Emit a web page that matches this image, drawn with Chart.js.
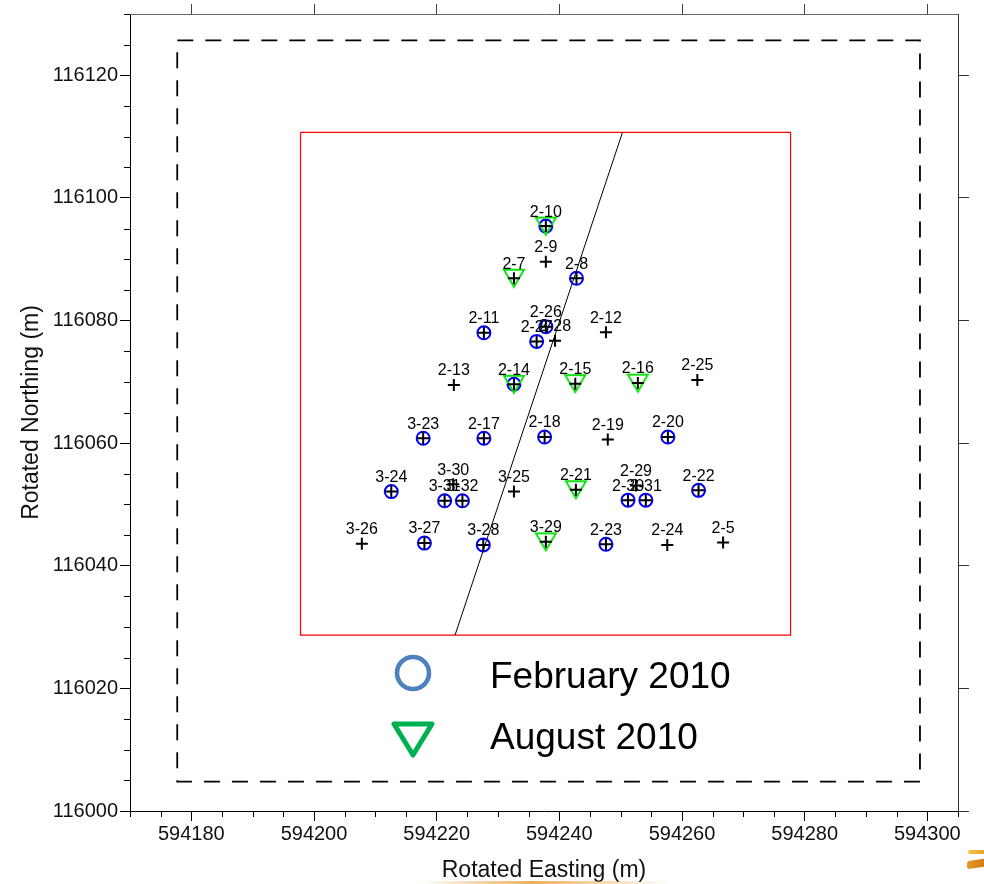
<!DOCTYPE html>
<html>
<head>
<meta charset="utf-8">
<title>Monitoring wells – rotated site grid</title>
<script src="https://cdn.jsdelivr.net/npm/chart.js@4.4.1/dist/chart.umd.min.js"></script>
<style>
  html, body { margin: 0; padding: 0; background: #fff; }
  #wrap { position: relative; width: 984px; height: 884px; overflow: hidden; }
  canvas { display: block; }
  .streak { position: absolute; pointer-events: none; }
  .s1 { left: 968px; top: 850px; width: 16px; height: 4px; background: linear-gradient(to right, #f3c24a, #e9a52a); border-radius: 2px 0 0 2px; }
  .s2 { left: 967px; top: 860px; width: 17px; height: 8px; background: linear-gradient(to right, #e39a2c, #d57c12); border-radius: 3px 0 0 3px; transform: skewY(-8deg); }
  .s3 { left: 420px; top: 881px; width: 250px; height: 3px; background: linear-gradient(to right, rgba(230,160,60,0), rgba(226,150,40,0.75) 45%, rgba(230,160,60,0)); }
</style>
</head>
<body>
<div id="wrap">
  <canvas id="c" width="984" height="884"></canvas>
  <div class="streak s1"></div>
  <div class="streak s2"></div>
  <div class="streak s3"></div>
</div>
<script>
// ---- Well locations (rotated site coordinates, metres) ----
const wellNames = ['2-10','2-9','2-7','2-8','2-11','2-26','2-27','2-28','2-12',
  '2-13','2-14','2-15','2-16','2-25','3-23','2-17','2-18','2-19','2-20',
  '3-24','3-30','3-31','3-32','3-25','2-21','2-29','2-30','2-31','2-22',
  '3-26','3-27','3-28','3-29','2-23','2-24','2-5'];
const wellEasting = [594237.8, 594237.8, 594232.6, 594242.8, 594227.7, 594237.8, 594236.3, 594239.3, 594247.6,
  594222.8, 594232.6, 594242.6, 594252.8, 594262.5, 594217.8, 594227.7, 594237.6, 594247.9, 594257.7,
  594212.6, 594222.7, 594221.3, 594224.2, 594232.6, 594242.7, 594252.5, 594251.2, 594254.1, 594262.7,
  594207.8, 594218.0, 594227.6, 594237.8, 594247.6, 594257.6, 594266.7];
const wellNorthing = [116095.4, 116089.6, 116086.9, 116086.9, 116078.0, 116079.0, 116076.6, 116076.7, 116078.1,
  116069.5, 116069.6, 116069.7, 116069.8, 116070.3, 116060.8, 116060.8, 116061.0, 116060.6, 116061.0,
  116052.1, 116053.3, 116050.6, 116050.6, 116052.1, 116052.4, 116053.1, 116050.7, 116050.7, 116052.3,
  116043.6, 116043.7, 116043.4, 116043.9, 116043.5, 116043.4, 116043.8];

// Wells sampled in each campaign
const febWells = ['2-10','2-8','2-11','2-26','2-27','2-14','3-23','2-17','2-18','2-20',
  '3-24','3-31','3-32','2-30','2-31','2-22','3-27','3-28','2-23'];
const augWells = ['2-10','2-7','2-14','2-15','2-16','2-21','3-29'];

// Site outlines
const bufferEasting  = [594177.7, 594298.8, 594298.8, 594177.7, 594177.7];
const bufferNorthing = [116125.7, 116125.7, 116004.8, 116004.8, 116125.7];
const plotEasting    = [594197.8, 594277.7, 594277.7, 594197.8, 594197.8];
const plotNorthing   = [116110.7, 116110.7, 116028.7, 116028.7, 116110.7];
const faultEasting   = [594250.3, 594223.0];
const faultNorthing  = [116110.7, 116028.7];

// Axis extents and tick spacing
const eastingRange  = [594170, 594305];
const northingRange = [116000, 116130];
const minorStep = 5;
const majorStep = 20;

const legendLabels = ['February 2010', 'August 2010'];

// ---- helpers ----
const FONT = "'Liberation Sans', Arial, Helvetica, sans-serif";
const toXY = (xs, ys) => xs.map((x, i) => ({ x, y: ys[i] }));
const wellPoint = name => {
  const i = wellNames.indexOf(name);
  return { x: wellEasting[i], y: wellNorthing[i] };
};
const isMajor = v => Math.round(v) % majorStep === 0;
function stepTicks(scale, step, majorOnly) {
  const out = [];
  for (let v = scale.min; v <= scale.max + 1e-6; v += step) {
    if (!majorOnly || isMajor(v)) out.push({ value: v });
  }
  scale.ticks = out;
}

// Downward triangle marker, centred on its bounding box
function makeTriangle(color) {
  const c = document.createElement('canvas');
  c.width = 24; c.height = 21;
  const g = c.getContext('2d');
  g.strokeStyle = color;
  g.lineWidth = 2;
  g.lineJoin = 'miter';
  g.beginPath();
  g.moveTo(2, 2);
  g.lineTo(22, 2);
  g.lineTo(12, 19);
  g.closePath();
  g.stroke();
  return c;
}

// Short minor tick marks (majors come from the scale's own grid ticks)
const minorTicks = {
  id: 'minorTicks',
  afterDraw(chart) {
    const ctx = chart.ctx;
    const xs = chart.scales.x, ys = chart.scales.y;
    ctx.save();
    ctx.strokeStyle = '#000';
    ctx.lineWidth = 1;
    ctx.beginPath();
    xs.ticks.forEach(t => {
      if (isMajor(t.value)) return;
      const px = Math.round(xs.getPixelForValue(t.value)) + 0.5;
      ctx.moveTo(px, xs.top);
      ctx.lineTo(px, xs.top + 6);
    });
    ys.ticks.forEach(t => {
      if (isMajor(t.value)) return;
      const py = Math.round(ys.getPixelForValue(t.value)) + 0.5;
      ctx.moveTo(ys.right, py);
      ctx.lineTo(ys.right - 6, py);
    });
    ctx.stroke();
    ctx.restore();
  }
};

// Well name above each location
const wellLabels = {
  id: 'wellLabels',
  afterDatasetsDraw(chart) {
    const idx = chart.data.datasets.findIndex(d => d.label === 'wells');
    const meta = chart.getDatasetMeta(idx);
    const ctx = chart.ctx;
    ctx.save();
    ctx.font = '16px ' + FONT;
    ctx.fillStyle = '#000';
    ctx.textAlign = 'center';
    ctx.textBaseline = 'middle';
    meta.data.forEach((el, i) => {
      ctx.fillText(wellNames[i], el.x, el.y - 14);
    });
    ctx.restore();
  }
};

// Campaign key inside the plotting area
const campaignKey = {
  id: 'campaignKey',
  afterDraw(chart) {
    const a = chart.chartArea;
    const ctx = chart.ctx;
    const mx = a.left + 283;
    const y1 = a.bottom - 138;
    const y2 = a.bottom - 73;
    ctx.save();
    // February marker
    ctx.strokeStyle = '#4f81bd';
    ctx.lineWidth = 4.6;
    ctx.beginPath();
    ctx.arc(mx, y1, 16, 0, Math.PI * 2);
    ctx.stroke();
    // August marker
    ctx.strokeStyle = '#00b050';
    ctx.lineWidth = 5;
    ctx.lineJoin = 'round';
    ctx.beginPath();
    ctx.moveTo(mx - 19, y2 - 14);
    ctx.lineTo(mx + 19, y2 - 14);
    ctx.lineTo(mx, y2 + 17);
    ctx.closePath();
    ctx.stroke();
    // Text
    ctx.fillStyle = '#000';
    ctx.font = '37px ' + FONT;
    ctx.textAlign = 'left';
    ctx.textBaseline = 'middle';
    ctx.fillText(legendLabels[0], mx + 77, y1 + 5);
    ctx.fillText(legendLabels[1], mx + 77, y2 + 1);
    ctx.restore();
  }
};

const tickFont = { family: FONT, size: 20, lineHeight: 1.2 };
const titleFont = { family: FONT, size: 23, lineHeight: 1.2 };

new Chart(document.getElementById('c'), {
  type: 'scatter',
  data: {
    datasets: [
      {
        label: 'wells',
        data: toXY(wellEasting, wellNorthing),
        pointStyle: 'cross',
        radius: 6,
        borderWidth: 2,
        borderColor: '#000',
        backgroundColor: '#000',
        order: 0
      },
      {
        label: 'August 2010',
        data: augWells.map(wellPoint),
        pointStyle: makeTriangle('#10e010'),
        radius: 11,
        order: 1
      },
      {
        label: 'February 2010',
        data: febWells.map(wellPoint),
        pointStyle: 'circle',
        radius: 6.5,
        borderWidth: 2,
        borderColor: '#0000ff',
        backgroundColor: 'rgba(0,0,0,0)',
        order: 2
      },
      {
        label: 'fault',
        data: toXY(faultEasting, faultNorthing),
        showLine: true,
        borderColor: '#000',
        borderWidth: 1,
        pointRadius: 0,
        fill: false,
        order: 3
      },
      {
        label: 'plot',
        data: toXY(plotEasting, plotNorthing),
        showLine: true,
        borderColor: '#ff0000',
        borderWidth: 1.2,
        pointRadius: 0,
        fill: false,
        order: 4
      },
      {
        label: 'buffer',
        data: toXY(bufferEasting, bufferNorthing),
        showLine: true,
        borderColor: '#000',
        borderWidth: 1.8,
        borderDash: [16, 12],
        pointRadius: 0,
        fill: false,
        order: 5
      }
    ]
  },
  options: {
    responsive: false,
    animation: false,
    events: [],
    layout: { padding: 0 },
    plugins: { legend: { display: false }, tooltip: { enabled: false } },
    elements: { line: { tension: 0 } },
    scales: {
      x: {
        type: 'linear', position: 'bottom',
        min: eastingRange[0], max: eastingRange[1],
        afterBuildTicks: s => stepTicks(s, minorStep, false),
        afterFit: s => { s.height = 73; },
        border: { display: true, color: '#000', width: 1 },
        grid: {
          display: true, drawOnChartArea: false, drawTicks: true, tickLength: 10,
          tickColor: c => (c.tick && isMajor(c.tick.value)) ? '#000' : 'rgba(0,0,0,0)'
        },
        ticks: {
          autoSkip: false, maxRotation: 0, padding: 1, color: '#111', font: tickFont,
          callback: v => isMajor(v) ? String(Math.round(v)) : ''
        },
        title: { display: true, text: 'Rotated Easting (m)', color: '#111', font: titleFont, padding: { top: 0, bottom: 0 } }
      },
      y: {
        type: 'linear', position: 'left',
        min: northingRange[0], max: northingRange[1],
        afterBuildTicks: s => stepTicks(s, minorStep, false),
        afterFit: s => { s.width = 130; },
        border: { display: true, color: '#000', width: 1 },
        grid: {
          display: true, drawOnChartArea: false, drawTicks: true, tickLength: 10,
          tickColor: c => (c.tick && isMajor(c.tick.value)) ? '#000' : 'rgba(0,0,0,0)'
        },
        ticks: {
          autoSkip: false, padding: 2, color: '#111', font: tickFont,
          callback: v => isMajor(v) ? String(Math.round(v)) : ''
        },
        title: { display: true, text: 'Rotated Northing (m)', color: '#111', font: titleFont, padding: { top: 18, bottom: 0 } }
      },
      x2: {
        type: 'linear', position: 'top',
        min: eastingRange[0], max: eastingRange[1],
        afterBuildTicks: s => stepTicks(s, minorStep, true),
        afterFit: s => { s.height = 14; },
        border: { display: true, color: '#666', width: 1 },
        grid: { display: true, drawOnChartArea: false, drawTicks: true, tickLength: 10, tickColor: '#444' },
        ticks: { display: false }
      },
      y2: {
        type: 'linear', position: 'right',
        min: northingRange[0], max: northingRange[1],
        afterBuildTicks: s => stepTicks(s, minorStep, true),
        afterFit: s => { s.width = 26; },
        border: { display: true, color: '#333', width: 1 },
        grid: { display: true, drawOnChartArea: false, drawTicks: true, tickLength: 11, tickColor: '#333' },
        ticks: { display: false }
      }
    }
  },
  plugins: [minorTicks, wellLabels, campaignKey]
});
</script>
</body>
</html>
